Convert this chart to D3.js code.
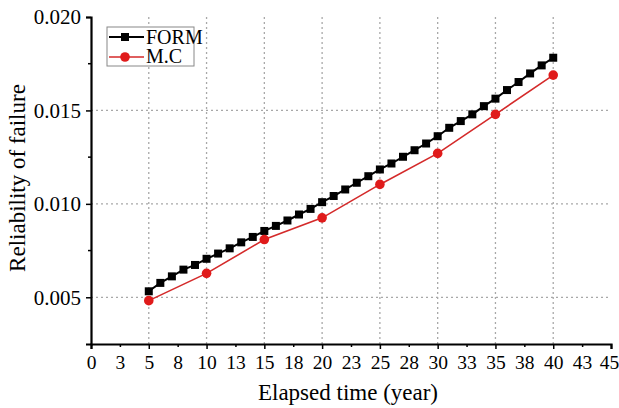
<!DOCTYPE html>
<html>
<head>
<meta charset="utf-8">
<script src="https://cdn.jsdelivr.net/npm/d3@7"></script>
<style>
  body { margin: 0; background: #fff; }
  svg text { font-family: "Liberation Serif", "Times New Roman", serif; fill: #000; }
</style>
</head>
<body>
<div id="chart"></div>
<script>
var formYears = d3.range(5, 41);
var formValues = [0.00532, 0.00577, 0.00612, 0.00648, 0.00673, 0.00706, 0.00734, 0.00762,
  0.00794, 0.00823, 0.00855, 0.00882, 0.00911, 0.00943, 0.00973, 0.01009, 0.01042,
  0.01077, 0.01113, 0.01148, 0.01184, 0.01216, 0.01252, 0.01287, 0.01323, 0.01362,
  0.01407, 0.01443, 0.01479, 0.01523, 0.01563, 0.01609, 0.01652, 0.01698, 0.01741, 0.01782];
var mcYears = [5, 10, 15, 20, 25, 30, 35, 40];
var mcValues = [0.00482, 0.00628, 0.00809, 0.00925, 0.01104, 0.01270, 0.01479, 0.01689];
var xTickValues = [0, 2.5, 5, 7.5, 10, 12.5, 15, 17.5, 20, 22.5, 25, 27.5, 30, 32.5, 35, 37.5, 40, 42.5, 45];
var xTickLabels = ["0", "3", "5", "8", "10", "13", "15", "18", "20", "23", "25", "28", "30", "33", "35", "38", "40", "43", "45"];
var yTickValues = [0.005, 0.010, 0.015, 0.020];
var yTickLabels = ["0.005", "0.010", "0.015", "0.020"];
var yMinorTicks = [0.0075, 0.0125, 0.0175];
var xGrid = [5, 10, 15, 20, 25, 30, 35, 40];
var seriesNames = ["FORM", "M.C"];

var W = 619, H = 408;
var serif = '"Liberation Serif", "Times New Roman", serif';
var svg = d3.select("#chart").append("svg").attr("width", W).attr("height", H);

var x = d3.scaleLinear().domain([0, 45]).range([91, 611]);
var y = d3.scaleLinear().domain([0.0025, 0.020]).range([344, 17]);

// grid
svg.append("g").selectAll("line").data(xGrid).enter().append("line")
  .attr("x1", d => x(d)).attr("x2", d => x(d))
  .attr("y1", y(0.020)).attr("y2", y(0.0025))
  .attr("stroke", "#a8a8a8").attr("stroke-width", 1.3).attr("stroke-dasharray", "2,3");
svg.append("g").selectAll("line").data(yTickValues.slice(0, 3)).enter().append("line")
  .attr("x1", x(0)).attr("x2", x(45))
  .attr("y1", d => y(d)).attr("y2", d => y(d))
  .attr("stroke", "#a8a8a8").attr("stroke-width", 1.3).attr("stroke-dasharray", "2,3");

// axes
var xAxis = svg.append("g").attr("transform", "translate(0," + y(0.0025) + ")")
  .call(d3.axisBottom(x).tickValues(xTickValues).tickSize(5).tickPadding(6)
    .tickFormat((d, i) => xTickLabels[i]));
xAxis.selectAll(".tick line").attr("y2", (d, i) => i % 2 ? 3 : 5);
var yAxis = svg.append("g").attr("transform", "translate(" + x(0) + ",0)")
  .call(d3.axisLeft(y).tickValues(yTickValues).tickSize(5).tickPadding(5)
    .tickFormat((d, i) => yTickLabels[i]));
svg.append("g").selectAll("line").data(yMinorTicks).enter().append("line")
  .attr("x1", x(0)).attr("x2", x(0) - 3)
  .attr("y1", d => y(d)).attr("y2", d => y(d))
  .attr("stroke", "#000").attr("stroke-width", 1.5);
[xAxis, yAxis].forEach(function(a) {
  a.attr("font-family", serif);
  a.select(".domain").attr("stroke-width", 2.2);
  a.selectAll(".tick line").attr("stroke-width", 1.5);
});
xAxis.selectAll("text").attr("font-family", serif).style("font-size", "19.5px")
  .attr("dx", (d, i) => i === xTickValues.length - 1 ? -2 : 0);
yAxis.selectAll("text").attr("font-family", serif).style("font-size", "21px");

// titles
svg.append("text").attr("x", 348).attr("y", 400).attr("text-anchor", "middle")
  .attr("font-family", serif).style("font-size", "23px").text("Elapsed time (year)");
svg.append("text").attr("transform", "translate(25,178) rotate(-90)").attr("text-anchor", "middle")
  .attr("font-family", serif).style("font-size", "23px").text("Reliability of failure");

// lines
var line = d3.line().x(d => x(d[0])).y(d => y(d[1]));
var formData = formYears.map((d, i) => [d, formValues[i]]);
var mcData = mcYears.map((d, i) => [d, mcValues[i]]);

svg.append("path").datum(mcData).attr("d", line)
  .attr("fill", "none").attr("stroke", "#d42a2a").attr("stroke-width", 1.6);
svg.append("path").datum(formData).attr("d", line)
  .attr("fill", "none").attr("stroke", "#000").attr("stroke-width", 2);

svg.append("g").selectAll("rect").data(formData).enter().append("rect")
  .attr("x", d => x(d[0]) - 4).attr("y", d => y(d[1]) - 4)
  .attr("width", 8).attr("height", 8).attr("fill", "#000");
svg.append("g").selectAll("circle").data(mcData).enter().append("circle")
  .attr("cx", d => x(d[0])).attr("cy", d => y(d[1])).attr("r", 4.8)
  .attr("fill", "#e01b1b");

// legend
var lg = svg.append("g");
lg.append("rect").attr("x", 107).attr("y", 27).attr("width", 87).attr("height", 39)
  .attr("fill", "#fff").attr("stroke", "#888").attr("stroke-width", 1);
lg.append("line").attr("x1", 109).attr("x2", 144).attr("y1", 37).attr("y2", 37)
  .attr("stroke", "#000").attr("stroke-width", 2);
lg.append("rect").attr("x", 121).attr("y", 33).attr("width", 8).attr("height", 8).attr("fill", "#000");
lg.append("line").attr("x1", 109).attr("x2", 144).attr("y1", 57).attr("y2", 57)
  .attr("stroke", "#d42a2a").attr("stroke-width", 1.6);
lg.append("circle").attr("cx", 125).attr("cy", 57).attr("r", 4.8).attr("fill", "#e01b1b");
lg.selectAll("text.lab").data(seriesNames).enter().append("text")
  .attr("class", "lab").attr("x", 146).attr("y", (d, i) => 44 + i * 19)
  .attr("font-family", serif).style("font-size", "20px").text(d => d);
</script>
</body>
</html>
